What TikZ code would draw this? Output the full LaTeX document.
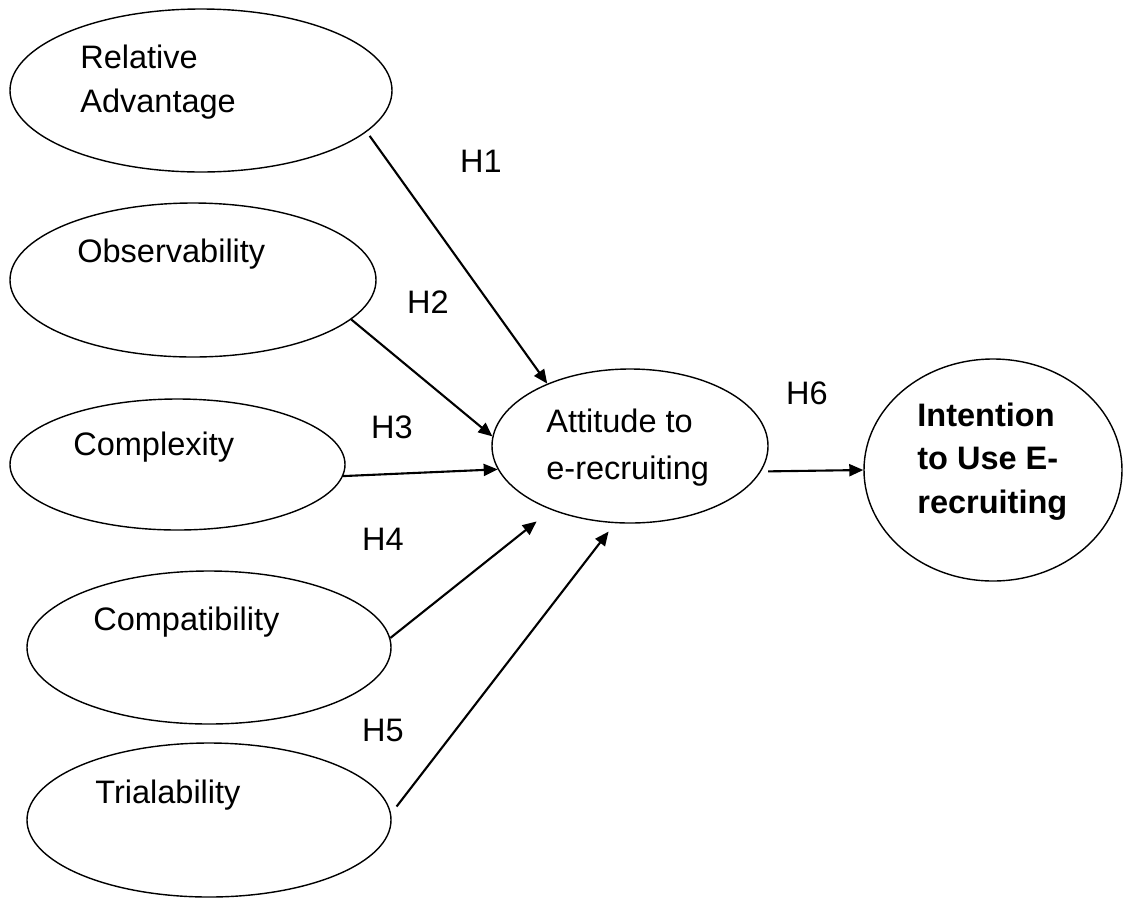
\documentclass[tikz,border=0pt]{standalone}
\usepackage{fontspec}
\setmainfont{Liberation Sans}
\usetikzlibrary{arrows.meta,shapes.geometric}
\begin{document}
\begin{tikzpicture}[x=0.2mm, y=-0.2mm,
    construct/.style={draw, ellipse, inner sep=0pt, line width=0.8pt},
    txt/.style={anchor=base west, inner sep=0pt, align=left, font=\fontsize{18.5}{24.5}\selectfont},
    hyp/.style={inner sep=0pt, font=\fontsize{18.5}{24.5}\selectfont},
    arr/.style={-{Triangle[length=2.8mm, width=2.4mm]}, line width=1.2pt}]
  \useasboundingbox (0,0) rectangle (1123,897);
  % constructs
  \node[construct, minimum width=7.64cm, minimum height=3.26cm] (rel) at (201,90.5) {};
  \node[construct, minimum width=7.32cm, minimum height=3.08cm] (obs) at (193,280) {};
  \node[construct, minimum width=6.70cm, minimum height=2.62cm] (cplx) at (177.5,464.5) {};
  \node[construct, minimum width=7.28cm, minimum height=3.06cm] (compat) at (209,647.5) {};
  \node[construct, minimum width=7.28cm, minimum height=3.08cm] (trial) at (209,820) {};
  \node[construct, minimum width=5.52cm, minimum height=3.08cm] (att) at (630,446) {};
  \node[construct, minimum width=5.16cm, minimum height=4.44cm] (intent) at (993,470) {};
  % texts (base = last line)
  \node[txt] (reltxt) at (80,112) {Relative\\Advantage};
  \node[txt] (obstxt) at (77,262) {Observability};
  \node[txt] (cplxtxt) at (73,455) {Complexity};
  \node[txt] (compattxt) at (93,630) {Compatibility};
  \node[txt] (trialtxt) at (95,803) {Trialability};
  \node[txt, font=\fontsize{18.5}{26.5}\selectfont] (atttxt) at (546,479) {Attitude to\\e-recruiting};
  \node[txt, font=\fontsize{18.5}{24.5}\selectfont\bfseries] (intenttxt) at (917,513) {Intention\\to Use E-\\recruiting};
  % hypotheses
  \node[hyp] (h1) at (481,161) {H1};
  \node[hyp] (h2) at (428,302) {H2};
  \node[hyp] (h3) at (392,427) {H3};
  \node[hyp] (h4) at (383,539) {H4};
  \node[hyp] (h5) at (383,730) {H5};
  \node[hyp] (h6) at (807,393) {H6};
  % paths
  \draw[arr, shorten <=0.1cm] (rel.-14) -- (att.143);
  \draw[arr] (obs.-14) -- (att.176);
  \draw[arr] (cplx.-4) -- (att.190);
  \draw[arr, shorten >=0.37cm] (compat.3) -- (att.219);
  \draw[arr, shorten <=0.18cm, shorten >=0.21cm] (trial.2) -- (att.259);
  \draw[arr, shorten <=0.14cm] (att.-11) -- (intent.west);
\end{tikzpicture}
\end{document}
